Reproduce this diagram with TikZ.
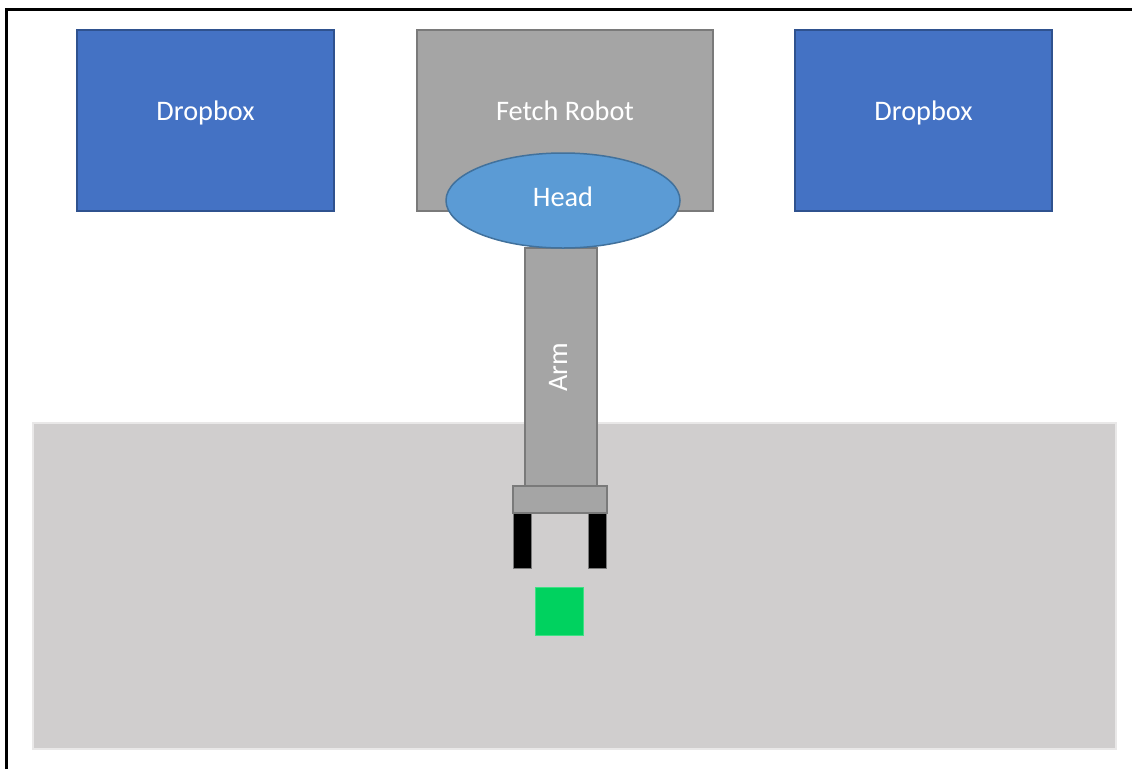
\documentclass[tikz,border=0pt]{standalone}
\usepackage{fontspec}
\setmainfont{Carlito}
\usepackage{tikz}
\usetikzlibrary{shapes.geometric}
\definecolor{dropfill}{HTML}{4472C4}
\definecolor{dropline}{HTML}{2F528F}
\definecolor{robotfill}{HTML}{A5A5A5}
\definecolor{robotline}{HTML}{7A7A7A}
\definecolor{headfill}{HTML}{5B9BD5}
\definecolor{headline}{HTML}{41719C}
\definecolor{tablefill}{HTML}{D0CECE}
\definecolor{tableline}{HTML}{E9E8E8}
\definecolor{blockfill}{HTML}{00D25F}
\definecolor{blockline}{HTML}{3FE084}
\tikzstyle{dropbox}=[rectangle,draw=dropline,fill=dropfill,line width=1.5pt,minimum width=257pt,minimum height=181pt,inner sep=0pt]
\tikzstyle{part}=[rectangle,draw=robotline,fill=robotfill,line width=1.5pt,inner sep=0pt]
\tikzstyle{finger}=[rectangle,draw=robotline,fill=black,line width=0.8pt,minimum width=18pt,minimum height=55pt,inner sep=0pt]
\tikzstyle{caption}=[text=white,font=\fontsize{28.3}{30}\selectfont,text height=19pt,text depth=5pt,inner sep=0pt]

\begin{document}
\begin{tikzpicture}[x=1pt,y=-1pt]
    \useasboundingbox (0,0) rectangle (1132,769);
    % frame of the slide
    \draw[line width=2.5pt] (6.5,769) -- (6.5,9.5) -- (1132,9.5);
    % the table
    \node[rectangle,draw=tableline,fill=tablefill,line width=2pt,minimum width=1083pt,minimum height=326pt] (table) at (574.5,586) {};
    % the two dropboxes
    \foreach \pos/\name in {{(205.5,120.5)/dropL}, {(923.5,120.5)/dropR}} {
        \node[dropbox] (\name) at \pos {};
        \node[caption] (\name text) at ([yshift=7pt]\name.center) {Dropbox};
    }
    % the robot, its arm and head
    \node[part,minimum width=296pt,minimum height=181pt] (robot) at (565,120.5) {};
    \node[caption] (robottext) at ([yshift=7pt]robot.center) {Fetch Robot};
    \node[part,minimum width=72pt,minimum height=239pt] (arm) at (561,367.5) {};
    \node[caption,rotate=90] (armtext) at ([xshift=-1pt]arm.center) {Arm};
    \node[ellipse,draw=headline,fill=headfill,line width=1.5pt,minimum width=234pt,minimum height=95pt,inner sep=0pt] (head) at (563,200.5) {};
    \node[caption] (headtext) at ([yshift=1pt]head.center) {Head};
    % gripper
    \node[part,minimum width=94pt,minimum height=27pt] (wrist) at (560,499.5) {};
    \foreach \pos/\name in {{(522,540.5)/fingerL}, {(597.5,540.5)/fingerR}}
        \node[finger] (\name) at \pos {};
    % the object to pick up
    \node[rectangle,draw=blockline,fill=blockfill,line width=0.6pt,minimum size=48pt,inner sep=0pt] (block) at (559.2,610.8) {};
\end{tikzpicture}
\end{document}
